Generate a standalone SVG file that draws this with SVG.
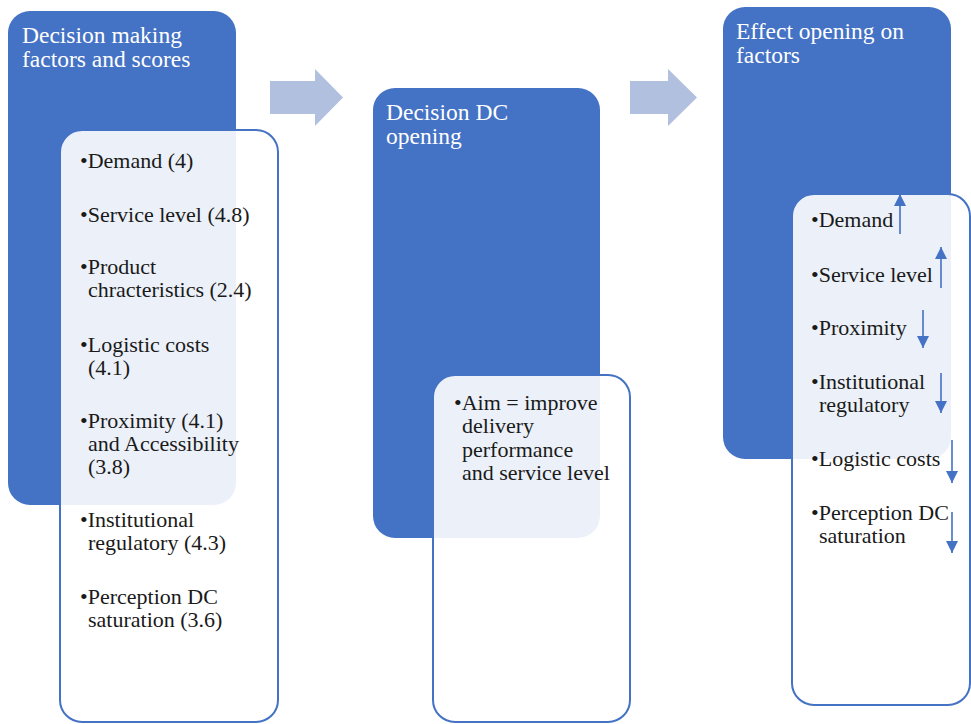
<svg xmlns="http://www.w3.org/2000/svg" width="971" height="724" viewBox="0 0 971 724">
<defs>
<style>
.blue{fill:#4472C4;}
.card{fill:#FFFFFF;fill-opacity:0.9;stroke:#4472C4;stroke-width:2;}
.hdr{font-family:"Liberation Serif","Times New Roman",serif;font-size:23.5px;fill:#FFFFFF;}
.txt{font-family:"Liberation Serif","Times New Roman",serif;font-size:22px;fill:#1A1A1A;}
.flow{fill:#B1C0DF;}
.ind{stroke:#4472C4;stroke-width:1.6;fill:none;}
</style>
<marker id="head" viewBox="0 0 12 12" markerWidth="12" markerHeight="12" refX="12" refY="6" orient="auto" markerUnits="userSpaceOnUse">
<path d="M0,0 L12,6 L0,12 z" fill="#4472C4"/>
</marker>
</defs>
<rect width="971" height="724" fill="#FFFFFF"/>

<g id="connectors">
<polygon class="flow" points="270,81 315,81 315,69 343,97.5 315,126 315,114 270,114"/>
<polygon class="flow" points="630,81 668,81 668,69 697,97.5 668,126 668,114 630,114"/>
</g>

<g id="factors">
<rect class="blue" x="8" y="11" width="228" height="494" rx="22"/>
<text class="hdr" x="22" y="43">Decision making</text>
<text class="hdr" x="22" y="67">factors and scores</text>
<rect class="card" x="60" y="130" width="218" height="592" rx="22"/>
<text class="txt" x="80" y="168">•Demand (4)</text>
<text class="txt" x="80" y="222">•Service level (4.8)</text>
<text class="txt" x="80" y="274">•Product</text>
<text class="txt" x="88" y="297">chracteristics (2.4)</text>
<text class="txt" x="80" y="352">•Logistic costs</text>
<text class="txt" x="88" y="375">(4.1)</text>
<text class="txt" x="80" y="428">•Proximity (4.1)</text>
<text class="txt" x="88" y="451">and Accessibility</text>
<text class="txt" x="88" y="474">(3.8)</text>
<text class="txt" x="80" y="527">•Institutional</text>
<text class="txt" x="88" y="550">regulatory (4.3)</text>
<text class="txt" x="80" y="604">•Perception DC</text>
<text class="txt" x="88" y="627">saturation (3.6)</text>
</g>

<g id="decision">
<rect class="blue" x="373" y="88" width="227" height="450" rx="22"/>
<text class="hdr" x="386" y="120">Decision DC</text>
<text class="hdr" x="386" y="144">opening</text>
<rect class="card" x="433" y="375" width="197" height="347" rx="22"/>
<text class="txt" x="454" y="410">•Aim = improve</text>
<text class="txt" x="462" y="433">delivery</text>
<text class="txt" x="462" y="457">performance</text>
<text class="txt" x="462" y="480">and service level</text>
</g>

<g id="effect">
<rect class="blue" x="723" y="7" width="228" height="452" rx="22"/>
<text class="hdr" x="736" y="39">Effect opening on</text>
<text class="hdr" x="736" y="63">factors</text>
<rect class="card" x="792" y="194" width="178" height="511" rx="22"/>
<text class="txt" x="811" y="227">•Demand</text>
<text class="txt" x="811" y="282">•Service level</text>
<text class="txt" x="811" y="335">•Proximity</text>
<text class="txt" x="811" y="389">•Institutional</text>
<text class="txt" x="819" y="412">regulatory</text>
<text class="txt" x="811" y="466">•Logistic costs</text>
<text class="txt" x="811" y="520">•Perception DC</text>
<text class="txt" x="819" y="543">saturation</text>
<line class="ind" x1="900" y1="234" x2="900" y2="194" marker-end="url(#head)"/>
<line class="ind" x1="941" y1="288" x2="941" y2="247" marker-end="url(#head)"/>
<line class="ind" x1="923" y1="310" x2="923" y2="348" marker-end="url(#head)"/>
<line class="ind" x1="941" y1="373" x2="941" y2="413" marker-end="url(#head)"/>
<line class="ind" x1="952" y1="440" x2="952" y2="483" marker-end="url(#head)"/>
<line class="ind" x1="952" y1="512" x2="952" y2="553" marker-end="url(#head)"/>
</g>
</svg>
